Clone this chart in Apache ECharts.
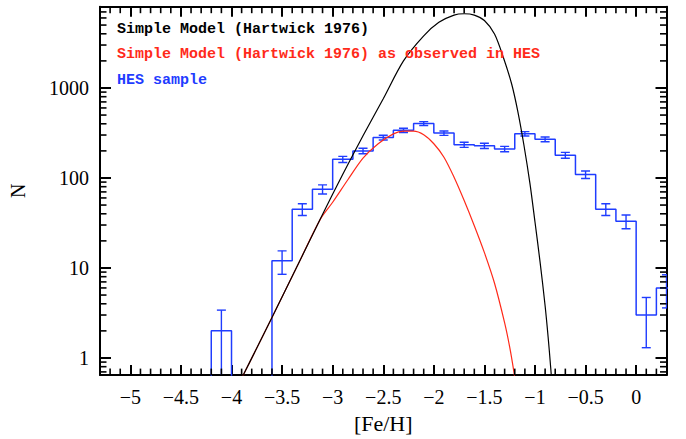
<!DOCTYPE html>
<html>
<head>
<meta charset="utf-8">
<script src="https://cdn.jsdelivr.net/npm/echarts@6/dist/echarts.min.js"></script>
<style>
html,body{margin:0;padding:0;background:#ffffff;}
#chart{width:686px;height:439px;}
</style>
</head>
<body>
<div id="chart"></div>
<script>
// ---------- data ----------
const binLeftEdges = [-4.4, -4.2, -4.0, -3.8, -3.6, -3.4, -3.2, -3.0, -2.8, -2.6, -2.4, -2.2,
                      -2.0, -1.8, -1.6, -1.4, -1.2, -1.0, -0.8, -0.6, -0.4, -0.2, 0.0, 0.2];
const binWidth = 0.2;
const binCounts = [0, 2, 0, 0, 12, 45, 75, 161, 200, 281, 338, 403,
                   315, 234, 228, 210, 310, 269, 179, 109, 45, 33, 3, 6];
const binErrors = [0, 1.4, 0, 0, 3.5, 6.7, 8.7, 12.7, 14.1, 16.8, 18.4, 20.1,
                   17.7, 15.3, 15.1, 14.5, 17.6, 16.4, 13.4, 10.4, 6.7, 5.7, 1.7, 2.4];

const modelX = [-3.96, -3.88, -3.75, -3.60, -3.35, -3.12, -2.90, -2.70, -2.50, -2.30, -2.10,
                -1.95, -1.80, -1.70, -1.60, -1.50, -1.40, -1.31, -1.23, -1.17, -1.11,
                -1.05, -1.00, -0.95, -0.90, -0.87, -0.845, -0.825];
const modelN = [0.44, 0.66, 1.29, 2.82, 10.5, 35.5, 110, 295, 760, 2000, 3800,
                5370, 6460, 6680, 6460, 5620, 3980, 2140, 1100, 550, 234,
                87, 32.4, 11.7, 3.8, 1.7, 0.79, 0.4];

const observedX = [-3.96, -3.88, -3.75, -3.60, -3.35, -3.12, -3.00, -2.85, -2.70, -2.55, -2.40,
                   -2.30, -2.20, -2.10, -2.00, -1.90, -1.80, -1.70, -1.60, -1.50, -1.40,
                   -1.30, -1.25, -1.21, -1.19];
const observedN = [0.44, 0.66, 1.29, 2.82, 10.5, 35.1, 53.7, 95.5, 166, 240, 309,
                   331, 331, 302, 240, 170, 102, 56.2, 29.5, 14.8, 6.76,
                   2.45, 1.32, 0.72, 0.50];

const xTickLabels = ['\u22125', '\u22124.5', '\u22124', '\u22123.5', '\u22123', '\u22122.5',
                     '\u22122', '\u22121.5', '\u22121', '\u22120.5', '0'];
const yTickLabels = ['1', '10', '100', '1000'];
const legendTexts = ['Simple Model (Hartwick 1976)',
                     'Simple Model (Hartwick 1976) as observed in HES',
                     'HES sample'];
const xMin = -5.3, xMax = 0.3, yMin = 0.645, yMax = 8000;
const xMinorTicks = [];
for (let k = -52; k <= 2; k++) { if (k % 5 !== 0) xMinorTicks.push(k / 10); }
const yMinorTicks = [0.7, 0.8, 0.9, 2, 3, 4, 5, 6, 7, 8, 9, 20, 30, 40, 50, 60, 70, 80, 90,
                     200, 300, 400, 500, 600, 700, 800, 900, 2000, 3000, 4000, 5000, 6000, 7000];

// ---------- colours / styles ----------
const BLACK = '#000000', RED = '#ff2a1a', BLUE = '#1f3cff';
const SERIF = '"Liberation Serif", "Times New Roman", serif';
const MONO = '"Liberation Mono", "DejaVu Sans Mono", monospace';
const zeroFloor = 1e-3;

const histData = binLeftEdges.map((e, i) => [e, binCounts[i] > 0 ? binCounts[i] : zeroFloor]);
histData.push([binLeftEdges[binLeftEdges.length - 1] + binWidth, binCounts[binCounts.length - 1]]);

const errData = [];
binLeftEdges.forEach((e, i) => {
  if (binCounts[i] > 0) errData.push([e + binWidth / 2, binCounts[i], binErrors[i]]);
});

const tickData = xMinorTicks.map(v => [v, 1, 0]).concat(yMinorTicks.map(v => [xMin, v, 1]));

function xLabel(v) {
  const idx = Math.round((v + 5) / 0.5);
  if (Math.abs((v + 5) / 0.5 - idx) < 1e-6 && idx >= 0 && idx < xTickLabels.length) return xTickLabels[idx];
  return '';
}
function yLabel(v) {
  const lg = Math.log10(v);
  const idx = Math.round(lg);
  if (Math.abs(lg - idx) < 1e-6 && idx >= 0 && idx < yTickLabels.length) return yTickLabels[idx];
  return '';
}

const axisLineStyle = { color: BLACK, width: 2 };
const chart = echarts.init(document.getElementById('chart'), null, { renderer: 'svg' });

chart.setOption({
  animation: false,
  backgroundColor: '#ffffff',
  grid: { left: 100, right: 19.5, top: 6.7, bottom: 54.7, containLabel: false },
  xAxis: [
    {
      type: 'value', position: 'bottom', min: xMin, max: xMax, splitNumber: 11,
      axisLine: { show: true, onZero: false, lineStyle: axisLineStyle },
      axisTick: { show: true, inside: true, length: 10, lineStyle: { color: BLACK, width: 2 } },
      axisLabel: { show: true, margin: 12, color: BLACK, fontFamily: SERIF, fontSize: 20, formatter: xLabel },
      splitLine: { show: false },
      name: '[Fe/H]', nameLocation: 'middle', nameGap: 33,
      nameTextStyle: { color: BLACK, fontFamily: SERIF, fontSize: 22 }
    },
    {
      type: 'value', position: 'top', min: xMin, max: xMax, splitNumber: 11,
      axisLine: { show: true, onZero: false, lineStyle: axisLineStyle },
      axisTick: { show: true, inside: true, length: 10, lineStyle: { color: BLACK, width: 2 } },
      axisLabel: { show: false }, splitLine: { show: false }
    }
  ],
  yAxis: [
    {
      type: 'log', logBase: 10, position: 'left', min: yMin, max: yMax,
      axisLine: { show: true, onZero: false, lineStyle: axisLineStyle },
      axisTick: { show: true, inside: true, length: 11, lineStyle: { color: BLACK, width: 2 } },
      axisLabel: { show: true, margin: 11, color: BLACK, fontFamily: SERIF, fontSize: 20, formatter: yLabel },
      splitLine: { show: false },
      name: 'N', nameLocation: 'middle', nameGap: 72,
      nameTextStyle: { color: BLACK, fontFamily: SERIF, fontSize: 20 }
    },
    {
      type: 'log', logBase: 10, position: 'right', min: yMin, max: yMax,
      axisLine: { show: true, onZero: false, lineStyle: axisLineStyle },
      axisTick: { show: true, inside: true, length: 11, lineStyle: { color: BLACK, width: 2 } },
      axisLabel: { show: false }, splitLine: { show: false }
    }
  ],
  graphic: legendTexts.map((t, i) => ({
    type: 'text', x: 117, y: [29, 54.5, 80.5][i], z: 100,
    style: { text: t, fill: [BLACK, RED, BLUE][i], fontFamily: MONO, fontWeight: 'bold', fontSize: 15,
             verticalAlign: 'middle', textVerticalAlign: 'middle' }
  })),
  series: [
    {
      name: 'minor ticks', type: 'custom', xAxisIndex: 0, yAxisIndex: 0, silent: true, clip: false, z: 5,
      data: tickData,
      renderItem: function (params, api) {
        const cs = params.coordSys;
        const p = api.coord([api.value(0), api.value(1)]);
        const kind = api.value(2);
        const st = { stroke: BLACK, lineWidth: 1.6 };
        const L = 6.5;
        if (kind === 0) {
          return { type: 'group', children: [
            { type: 'line', shape: { x1: p[0], y1: cs.y + cs.height, x2: p[0], y2: cs.y + cs.height - L }, style: st },
            { type: 'line', shape: { x1: p[0], y1: cs.y, x2: p[0], y2: cs.y + L }, style: st }
          ] };
        }
        return { type: 'group', children: [
          { type: 'line', shape: { x1: cs.x, y1: p[1], x2: cs.x + L, y2: p[1] }, style: st },
          { type: 'line', shape: { x1: cs.x + cs.width, y1: p[1], x2: cs.x + cs.width - L, y2: p[1] }, style: st }
        ] };
      }
    },
    {
      name: legendTexts[2], type: 'line', step: 'end', data: histData, showSymbol: false, symbol: 'none',
      clip: true, lineStyle: { color: BLUE, width: 1.5 }, z: 3
    },
    {
      name: 'HES error bars', type: 'custom', clip: true, data: errData, z: 3,
      renderItem: function (params, api) {
        const x = api.value(0), n = api.value(1), e = api.value(2);
        const top = api.coord([x, n + e]);
        const bot = api.coord([x, Math.max(n - e, zeroFloor)]);
        const st = { stroke: BLUE, lineWidth: 1.4 };
        const c = 4.5;
        const kids = [
          { type: 'line', shape: { x1: top[0], y1: top[1], x2: bot[0], y2: bot[1] }, style: st },
          { type: 'line', shape: { x1: top[0] - c, y1: top[1], x2: top[0] + c, y2: top[1] }, style: st }
        ];
        if (n - e > yMin) kids.push({ type: 'line', shape: { x1: bot[0] - c, y1: bot[1], x2: bot[0] + c, y2: bot[1] }, style: st });
        return { type: 'group', children: kids };
      }
    },
    {
      name: legendTexts[1], type: 'line', data: observedX.map((x, i) => [x, observedN[i]]),
      smooth: 0.3, showSymbol: false, symbol: 'none', clip: true,
      lineStyle: { color: RED, width: 1.2 }, z: 4
    },
    {
      name: legendTexts[0], type: 'line', data: modelX.map((x, i) => [x, modelN[i]]),
      smooth: 0.3, showSymbol: false, symbol: 'none', clip: true,
      lineStyle: { color: BLACK, width: 1.2 }, z: 4
    }
  ]
});
</script>
</body>
</html>
